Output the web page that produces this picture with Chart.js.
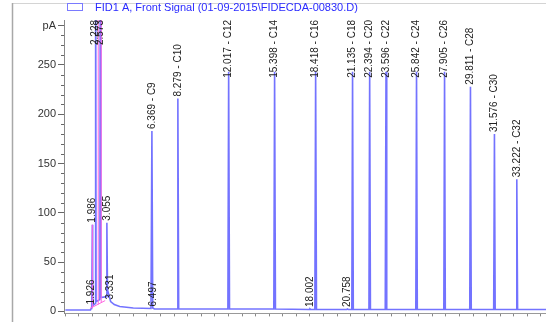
<!DOCTYPE html>
<html>
<head>
<meta charset="utf-8">
<script src="https://cdn.jsdelivr.net/npm/chart.js@4"></script>
<style>
  html, body { margin: 0; padding: 0; background: #fff; overflow: hidden; }
  #wrap { position: relative; width: 546px; height: 322px; }
</style>
</head>
<body>
<div id="wrap"><canvas id="chart-canvas" width="546" height="322"></canvas></div>
<script>
// signal name for the legend
const signalName = 'FID1 A, Front Signal (01-09-2015\\FIDECDA-00830.D)';

// detector trace (retention time in min, signal in pA)
const traceTimes = [0, 1.85, 1.9, 1.926, 1.95, 1.986, 2.01, 2.2, 2.228, 2.26, 2.54, 2.573, 2.61, 3.02, 3.055, 3.1, 3.331, 3.6, 4.0, 5.0, 6.3,
  6.369, 6.43, 6.497, 6.56, 8.22, 8.279, 8.34, 11.96, 12.017, 12.08, 15.34, 15.398, 15.46, 17.95, 18.002, 18.05, 18.36, 18.418, 18.48,
  20.7, 20.758, 20.81, 21.08, 21.135, 21.19, 22.34, 22.394, 22.45, 23.54, 23.596, 23.65, 25.79, 25.842, 25.9, 27.85, 27.905, 27.96,
  29.76, 29.811, 29.87, 31.52, 31.576, 31.63, 33.17, 33.222, 33.28, 35.4];
const traceValues = [1.5, 1.5, 3, 5, 4, 88, 6, 8, 400, 10, 12, 400, 14, 15, 90, 22, 10, 7, 5, 3.5, 3,
  183, 3.5, 3, 2.5, 2.5, 216, 2.5, 2.5, 243, 2.5, 2.5, 243, 2.5, 2, 2.5, 2, 2, 243, 2,
  2, 2.5, 2, 2, 243, 2, 2, 243, 2, 2, 243, 2, 2, 243, 2, 2, 243, 2,
  2, 228, 2, 2, 180, 2, 2, 134, 2, 2];

// integration baselines / drop lines (null breaks the line)
const baseTimes = [1.81, 2.93, null, 1.986, 1.986, null, 2.42, 2.42, null, 2.64, 2.64];
const baseValues = [3, 11, null, 3.5, 88, null, 7, 400, null, 9, 400];

// peak annotations
const labelTimes = [1.926, 1.986, 2.228, 2.573, 3.055, 3.331, 6.369, 6.497, 8.279, 12.017, 15.398, 18.002, 18.418, 20.758,
  21.135, 22.394, 23.596, 25.842, 27.905, 29.811, 31.576, 33.222];
const labelTexts = ['1.926', '1.986', '2.228', '2.573', '3.055', '3.331', '6.369 - C9', '6.497', '8.279 - C10', '12.017 - C12',
  '15.398 - C14', '18.002', '18.418 - C16', '20.758', '21.135 - C18', '22.394 - C20', '23.596 - C22', '25.842 - C24',
  '27.905 - C26', '29.811 - C28', '31.576 - C30', '33.222 - C32'];

// axis ticks
const yTickValues = [0, 10, 20, 30, 40, 50, 60, 70, 80, 90, 100, 110, 120, 130, 140, 150, 160, 170, 180, 190, 200,
  210, 220, 230, 240, 250, 260, 270, 280, 290];
const yUnitTick = 290;
const xTickValues = [0, 1, 2, 3, 4, 5, 6, 7, 8, 9, 10, 11, 12, 13, 14, 15, 16, 17, 18, 19, 20, 21, 22, 23, 24, 25,
  26, 27, 28, 29, 30, 31, 32, 33, 34, 35];

const FONT = 'Arial, "Liberation Sans", sans-serif';

// I draw the frame, legend, minor ticks and peak labels myself
const decorations = {
  id: 'decorations',
  beforeDraw(chart) {
    const ctx = chart.ctx;
    ctx.save();
    ctx.strokeStyle = '#d4d4d4';
    ctx.lineWidth = 1;
    ctx.beginPath();
    ctx.moveTo(12, 3.5); ctx.lineTo(chart.width, 3.5);
    ctx.stroke();
    ctx.strokeStyle = '#a8a8a8';
    ctx.lineWidth = 1.5;
    ctx.beginPath();
    ctx.moveTo(12.5, 3); ctx.lineTo(12.5, chart.height);
    ctx.stroke();
    ctx.restore();
  },
  afterDraw(chart) {
    const ctx = chart.ctx;
    const area = chart.chartArea;
    const xs = chart.scales.x;
    const ys = chart.scales.y;
    ctx.save();

    // legend
    ctx.fillStyle = '#fff';
    ctx.fillRect(67, 3, 15, 8);
    ctx.strokeStyle = '#7a7aff';
    ctx.lineWidth = 1;
    ctx.strokeRect(67.5, 3.5, 15, 7);
    ctx.fillStyle = '#2a2aff';
    ctx.font = '11px ' + FONT;
    ctx.textBaseline = 'alphabetic';
    ctx.textAlign = 'left';
    ctx.fillText(signalName, 95, 11);

    // minor y ticks (shorter)
    ctx.strokeStyle = '#666';
    ctx.lineWidth = 1;
    ys.ticks.forEach(t => {
      if (t.value % 50 !== 0 && t.value !== yUnitTick) {
        const py = Math.round(ys.getPixelForValue(t.value)) + 0.5;
        ctx.beginPath();
        ctx.moveTo(area.left - 3, py); ctx.lineTo(area.left, py);
        ctx.stroke();
      }
    });

    // peak labels
    ctx.fillStyle = '#222';
    ctx.font = '10px ' + FONT;
    ctx.textBaseline = 'middle';
    ctx.textAlign = 'left';
    labelTimes.forEach((t, i) => {
      const idx = traceTimes.indexOf(t);
      const v = idx >= 0 ? traceValues[idx] : 0;
      const px = xs.getPixelForValue(t);
      const w = ctx.measureText(labelTexts[i]).width;
      let py = ys.getPixelForValue(v) - 2;
      if (py - w < area.top) py = area.top + w;
      ctx.save();
      ctx.translate(px, py);
      ctx.rotate(-Math.PI / 2);
      ctx.fillText(labelTexts[i], 0, 0);
      ctx.restore();
    });
    ctx.restore();
  }
};

const canvas = document.getElementById('chart-canvas');
new Chart(canvas, {
  type: 'line',
  data: {
    datasets: [{
      label: signalName,
      data: baseTimes.map((t, i) => ({ x: t, y: baseValues[i] })),
      borderColor: '#ff66e0',
      borderWidth: 1,
      pointRadius: 0,
      spanGaps: false,
      order: 0
    }, {
      label: signalName,
      data: traceTimes.map((t, i) => ({ x: t, y: traceValues[i] })),
      borderColor: 'rgba(80, 80, 255, 0.8)',
      borderWidth: 1.6,
      pointRadius: 0,
      tension: 0,
      order: 1
    }]
  },
  options: {
    responsive: false,
    animation: false,
    layout: { padding: { top: 20, left: 0, right: 0, bottom: 0 } },
    plugins: {
      legend: { display: false },
      tooltip: { enabled: false }
    },
    scales: {
      x: {
        type: 'linear',
        min: -0.1,
        max: 35.37,
        afterBuildTicks: s => { s.ticks = xTickValues.map(v => ({ value: v })); },
        afterFit: s => { s.height = 2; },
        ticks: { display: false },
        grid: { drawOnChartArea: false, tickLength: 3, color: '#888' },
        border: { color: '#999', width: 1 }
      },
      y: {
        type: 'linear',
        min: -2,
        max: 295.6,
        afterBuildTicks: s => { s.ticks = yTickValues.map(v => ({ value: v })); },
        afterFit: s => { s.width = 64; },
        ticks: {
          autoSkip: false,
          padding: 2,
          color: '#333',
          font: { family: FONT, size: 11 },
          callback: v => (v === yUnitTick ? 'pA' : (v % 50 === 0 ? v : ''))
        },
        grid: {
          drawOnChartArea: false,
          tickLength: 6,
          tickColor: c => (c.tick && (c.tick.value % 50 === 0 || c.tick.value === yUnitTick) ? '#666' : 'rgba(0,0,0,0)')
        },
        border: { color: '#888', width: 1 }
      }
    }
  },
  plugins: [decorations]
});
</script>
</body>
</html>
